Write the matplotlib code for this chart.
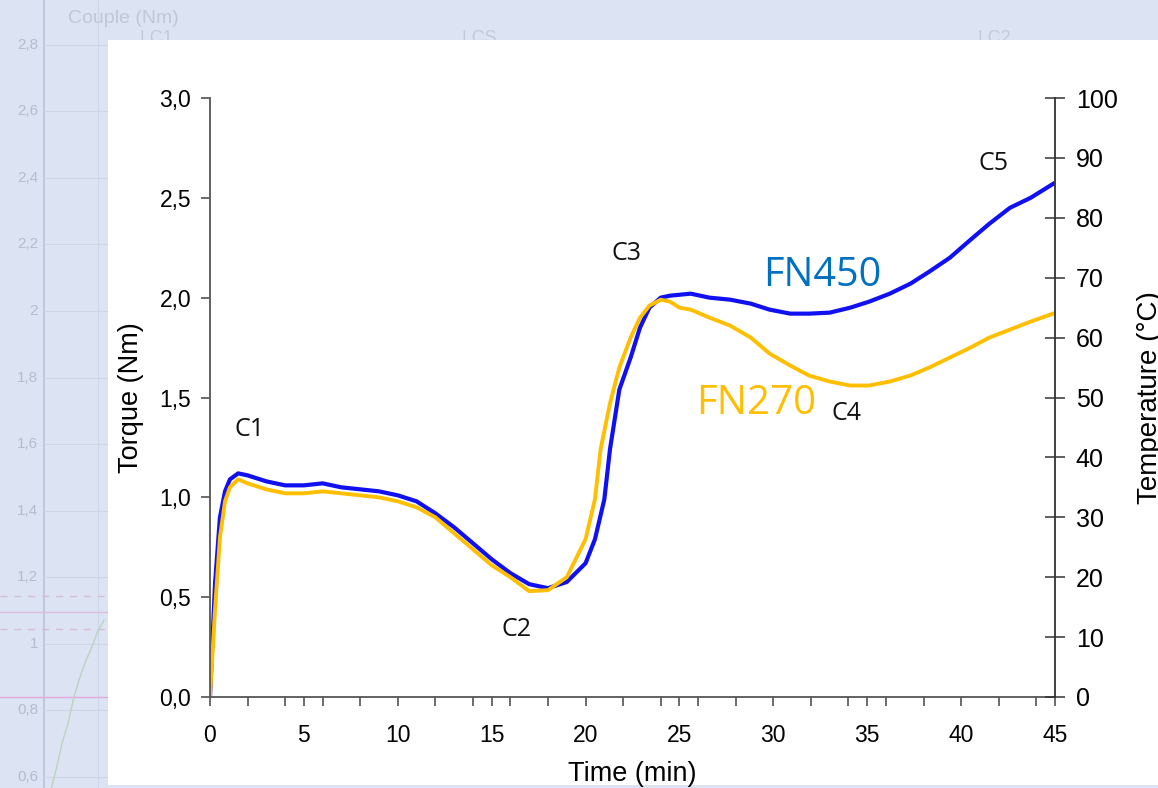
import matplotlib.pyplot as plt
from matplotlib.patches import Rectangle
from matplotlib.ticker import MultipleLocator, FuncFormatter

# --- data ---
t_fn450 = [0, 0.27, 0.53, 0.8, 1.06, 1.5, 2, 3, 4, 5, 6, 7, 8, 9, 10, 11, 12, 13, 14, 15,
           16, 17, 18, 19, 20, 20.5, 21, 21.3, 21.8, 22.4, 22.9, 23.4, 24.0, 24.5, 25.6,
           26.6, 27.7, 28.8, 29.8, 30.9, 31.9, 33.0, 34.1, 35.1, 36.2, 37.3, 38.3, 39.4,
           40.5, 41.5, 42.6, 43.7, 44.9]
torque_fn450 = [0, 0.57, 0.90, 1.03, 1.09, 1.12, 1.11, 1.08, 1.06, 1.06, 1.07, 1.05, 1.04,
                1.03, 1.01, 0.98, 0.92, 0.85, 0.77, 0.69, 0.62, 0.565, 0.545, 0.576, 0.67,
                0.79, 0.99, 1.24, 1.54, 1.70, 1.85, 1.95, 2.00, 2.01, 2.02, 2.00, 1.99, 1.97,
                1.94, 1.92, 1.92, 1.925, 1.95, 1.98, 2.02, 2.07, 2.13, 2.20, 2.29, 2.37, 2.45,
                2.50, 2.57]

t_fn270 = [0, 0.27, 0.53, 0.8, 1.06, 1.5, 2, 3, 4, 5, 6, 7, 8, 9, 10, 11, 12, 13, 14, 15,
           16, 17, 18, 19, 20, 20.5, 20.8, 21.3, 21.8, 22.4, 22.9, 23.4, 24.0, 24.5, 25.0,
           25.6, 26.6, 27.7, 28.8, 29.8, 30.9, 31.9, 33.0, 34.1, 35.1, 36.2, 37.3, 38.3,
           39.4, 40.5, 41.5, 42.6, 43.7, 44.9]
torque_fn270 = [0, 0.44, 0.80, 0.98, 1.05, 1.09, 1.07, 1.04, 1.02, 1.02, 1.03, 1.02, 1.01,
                1.00, 0.98, 0.95, 0.90, 0.82, 0.74, 0.66, 0.60, 0.53, 0.535, 0.60, 0.79,
                0.99, 1.24, 1.47, 1.65, 1.80, 1.90, 1.96, 1.99, 1.98, 1.95, 1.94, 1.90, 1.86,
                1.80, 1.72, 1.66, 1.61, 1.58, 1.56, 1.56, 1.58, 1.61, 1.65, 1.70, 1.75, 1.80,
                1.84, 1.88, 1.92]

point_labels = ["C1", "C2", "C3", "C4", "C5"]
point_t = [2.1, 16.3, 22.2, 33.9, 41.7]
point_torque = [1.34, 0.34, 2.22, 1.42, 2.67]

# faded screenshot behind the chart
bg_ticks = [2.8, 2.6, 2.4, 2.2, 2.0, 1.8, 1.6, 1.4, 1.2, 1.0, 0.8, 0.6]
bg_tick_labels = ["2,8", "2,6", "2,4", "2,2", "2", "1,8", "1,6", "1,4", "1,2", "1", "0,8", "0,6"]
bg_trace_x = [50, 56, 62, 68, 74, 80, 86, 92, 98, 104]
bg_trace_y = [0.55, 0.62, 0.70, 0.76, 0.84, 0.90, 0.95, 0.99, 1.04, 1.07]

BLUE = "#1010f0"
GOLD = "#ffbf00"
ARIAL = "Liberation Sans"

fig = plt.figure(figsize=(11.58, 7.88), dpi=100)
fig.patch.set_facecolor("#dce3f2")

# background chart
bg = fig.add_axes([0, 0, 1, 1], zorder=-2)
bg.set_xlim(0, 1158)
bg.set_ylim(0.566, 2.935)
bg.axis("off")
bg.axvline(44, color="#b9c3d8", lw=1.2)
bg.axvline(98, color="#cdd5e6", lw=0.8)
for v, lab in zip(bg_ticks, bg_tick_labels):
    bg.axhline(v, xmin=44 / 1158, color="#cdd5e6", lw=0.8)
    bg.text(38, v, lab, ha="right", va="center", fontsize=11, color="#b5bccb", family=ARIAL)
bg.axhline(1.143, color="#d6bcd6", lw=1, ls=(0, (5, 5)))
bg.axhline(1.095, color="#dcbfe0", lw=1)
bg.axhline(1.044, color="#d6bcd6", lw=1, ls=(0, (5, 5)))
bg.axhline(0.84, color="#e0a8dc", lw=1)
bg.plot(bg_trace_x, bg_trace_y, color="#b9d3bf", lw=1)
bg.text(68, 2.88, "Couple (Nm)", fontsize=14, color="#c0c7d6", va="center", family=ARIAL)
for xp, lab in [(140, "| C1"), (462, "| CS"), (978, "| C2")]:
    bg.text(xp, 2.82, lab, fontsize=13, color="#c3cad8", va="center", family=ARIAL)

# white panel
fig.patches.append(Rectangle((108 / 1158, 3 / 788), 1 - 108 / 1158, (785 - 40) / 788,
                             transform=fig.transFigure, facecolor="white",
                             edgecolor="none", zorder=-1))

# main chart
ax = fig.add_axes([210 / 1158, 91 / 788, 845 / 1158, 599 / 788], zorder=1)
ax.set_facecolor("none")
ax.plot(t_fn450, torque_fn450, color=BLUE, lw=3.0, solid_joinstyle="round")
ax.plot(t_fn270, torque_fn270, color=GOLD, lw=2.8, solid_joinstyle="round")

ax.set_xlim(0, 45)
ax.set_ylim(0, 3.0)
ax.xaxis.set_major_locator(MultipleLocator(5))
ax.xaxis.set_minor_locator(MultipleLocator(2))
ax.yaxis.set_major_locator(MultipleLocator(0.5))
ax.yaxis.set_major_formatter(FuncFormatter(lambda v, p: f"{v:.1f}".replace(".", ",")))

for s in ["top", "right"]:
    ax.spines[s].set_visible(False)
for s in ["left", "bottom"]:
    ax.spines[s].set_color("#555555")
    ax.spines[s].set_linewidth(1.3)
ax.tick_params(which="both", direction="out", length=6.5, width=1.1, color="#444444",
               labelsize=16.5)
ax.tick_params(axis="y", pad=7)
ax.tick_params(axis="x", which="both", pad=13)
for lab in ax.get_xticklabels() + ax.get_yticklabels():
    lab.set_family(ARIAL)

ax.set_xlabel("Time (min)", fontsize=19.5, family=ARIAL, labelpad=10)
ax.set_ylabel("Torque (Nm)", fontsize=19.5, family=ARIAL, labelpad=11)

# temperature axis
ax2 = ax.twinx()
ax2.set_ylim(0, 100)
ax2.yaxis.set_major_locator(MultipleLocator(10))
for s in ["top", "left", "bottom"]:
    ax2.spines[s].set_visible(False)
ax2.spines["right"].set_color("#333333")
ax2.spines["right"].set_linewidth(1.3)
ax2.tick_params(direction="inout", length=14, width=1.1, color="#333333", labelsize=18,
                pad=8)
for lab in ax2.get_yticklabels():
    lab.set_family(ARIAL)
for tick in ax2.yaxis.get_major_ticks():
    if abs(tick.get_loc() - 50) < 1e-6 or abs(tick.get_loc() - 60) < 1e-6:
        tick.tick2line.set_color("#d0307a")
ax2.set_ylabel("Temperature (°C)", fontsize=20, family=ARIAL, labelpad=14)

for lab, tx, ty in zip(point_labels, point_t, point_torque):
    ax.text(tx, ty, lab, fontsize=18, family="Open Sans", ha="center", va="center",
            color="#111111")
ax.text(32.6, 2.11, "FN450", fontsize=28.5, family="Open Sans", ha="center", va="center",
        color="#0070c0")
ax.text(29.1, 1.47, "FN270", fontsize=29, family="Open Sans", ha="center", va="center",
        color=GOLD)

fig.savefig("out.png", dpi=100, facecolor=fig.get_facecolor())
